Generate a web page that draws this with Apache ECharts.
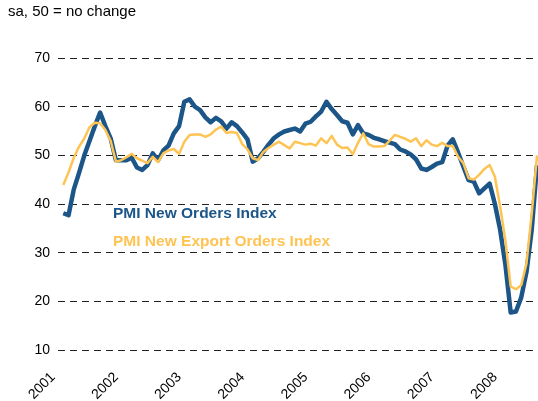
<!DOCTYPE html>
<html>
<head>
<meta charset="utf-8">
<script src="https://cdn.jsdelivr.net/npm/echarts@6/dist/echarts.min.js"></script>
<style>
  html, body { margin: 0; padding: 0; background: #fff; }
  #chart { width: 538px; height: 401px; }
</style>
</head>
<body>
<div id="chart"></div>
<script>
// years shown on the axis, one tick per January
var years = ['2001', '2002', '2003', '2004', '2005', '2006', '2007', '2008'];

// monthly values, first slot (Jan 2001) has no reading
var newOrders = [null,
  38.1, 37.7, 43.0, 46.4, 50.0, 53.0, 56.0, 58.8, 56.0, 53.5, 49.0, 49.0,
  49.0, 49.5, 47.5, 47.0, 48.0, 50.4, 49.0, 51.0, 52.0, 54.5, 56.0, 61.0,
  61.5, 60.0, 59.3, 57.8, 56.8, 57.7, 57.0, 55.5, 56.8, 56.0, 54.7, 53.3,
  48.7, 49.4, 50.7, 52.2, 53.5, 54.3, 54.9, 55.2, 55.5, 54.9, 56.5, 56.9,
  58.0, 59.0, 61.0, 59.5, 58.3, 57.0, 56.7, 54.3, 56.2, 54.5, 54.2, 53.6,
  53.3, 52.9, 52.6, 52.3, 51.2, 50.8, 50.2, 49.2, 47.3, 47.0, 47.6, 48.3,
  48.6, 52.0, 53.3, 50.6, 47.7, 44.9, 44.6, 42.2, 43.2, 44.2, 40.0, 34.7,
  27.5, 17.7, 17.9, 20.8, 26.0, 34.7, 48.0
];
var exportOrders = [null,
  43.9, 46.5, 49.5, 51.8, 53.5, 55.8, 56.7, 56.6, 55.2, 53.0, 48.7, 49.0,
  49.6, 50.3, 49.4, 48.9, 48.4, 49.7, 48.6, 50.4, 51.0, 51.3, 50.3, 52.8,
  54.2, 54.3, 54.3, 53.8, 54.3, 55.3, 55.9, 54.6, 54.8, 54.6, 52.3, 51.2,
  49.4, 49.0, 50.7, 51.5, 52.2, 52.8, 52.1, 51.4, 52.8, 52.5, 52.2, 52.4,
  52.0, 53.5, 52.5, 54.0, 52.2, 51.5, 51.6, 50.2, 52.6, 54.5, 52.3, 51.8,
  51.8, 51.9, 53.0, 54.2, 53.8, 53.4, 52.8, 53.5, 51.9, 53.1, 52.2, 51.9,
  52.6, 51.9, 51.9, 49.7, 48.4, 45.3, 45.0, 46.0, 47.2, 48.0, 45.6, 39.5,
  32.5, 23.0, 22.5, 23.3, 27.8, 38.0, 50.0
];

// month categories built from the years list
var months = [];
for (var i = 0; i < newOrders.length; i++) {
  var y = parseInt(years[0], 10) + Math.floor(i / 12);
  months.push(y + '-' + (i % 12 + 1));
}

var blue = '#1c5688';
var yellow = '#fec453';
var font = 'Liberation Sans, Arial';

var myChart = echarts.init(document.getElementById('chart'));
var option = {
  animation: false,
  grid: { left: 58, right: 1, top: 58, bottom: 51, outerBoundsMode: 'none' },
  xAxis: {
    type: 'category',
    data: months,
    boundaryGap: false,
    axisLine: { show: false },
    axisTick: { show: false },
    splitLine: { show: false },
    axisLabel: {
      rotate: 45,
      margin: 20,
      padding: [0, 7, 0, 0],
      fontFamily: font,
      fontSize: 14,
      color: '#000',
      interval: function (idx) { return idx % 12 === 0; },
      formatter: function (val) { return val.split('-')[0]; }
    }
  },
  yAxis: {
    type: 'value',
    min: 10,
    max: 70,
    interval: 10,
    axisLine: { show: false },
    axisTick: { show: false },
    axisLabel: {
      margin: 8,
      fontFamily: font,
      fontSize: 14,
      color: '#000'
    },
    splitLine: {
      lineStyle: { color: '#222', width: 1, type: [7, 5] }
    }
  },
  graphic: [
    {
      type: 'text', left: 8, top: 4,
      style: { text: 'sa, 50 = no change', font: '15px ' + font, fill: '#000' }
    },
    {
      type: 'text', left: 113, top: 206,
      style: { text: 'PMI New Orders Index', font: 'bold 15.5px ' + font, fill: blue }
    },
    {
      type: 'text', left: 113, top: 234,
      style: { text: 'PMI New Export Orders Index', font: 'bold 15.5px ' + font, fill: yellow }
    }
  ],
  series: [
    {
      name: 'PMI New Orders Index',
      type: 'line',
      data: newOrders,
      showSymbol: false,
      lineStyle: { color: blue, width: 4.5, join: 'round' },
      itemStyle: { color: blue }
    },
    {
      name: 'PMI New Export Orders Index',
      type: 'line',
      data: exportOrders,
      showSymbol: false,
      lineStyle: { color: yellow, width: 2.5, join: 'round' },
      itemStyle: { color: yellow }
    }
  ]
};
myChart.setOption(option);
</script>
</body>
</html>
